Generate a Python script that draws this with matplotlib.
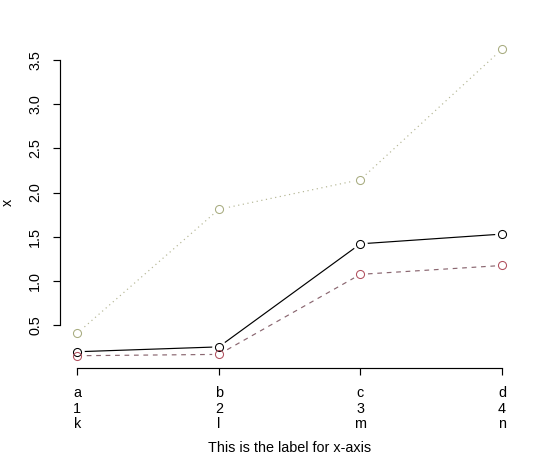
import matplotlib
matplotlib.use('Agg')
import matplotlib.pyplot as plt

# data
categories = ['a\n1\nk', 'b\n2\nl', 'c\n3\nm', 'd\n4\nn']
positions = [1, 2, 3, 4]
black_vals = [0.20, 0.255, 1.42, 1.53]
red_vals = [0.155, 0.17, 1.075, 1.175]
green_vals = [0.41, 1.81, 2.145, 3.62]
y_ticks = [0.5, 1.0, 1.5, 2.0, 2.5, 3.0, 3.5]

plt.rcParams['font.family'] = ['Liberation Sans', 'DejaVu Sans']

fig = plt.figure(figsize=(5.4, 4.62), dpi=100)
ax = fig.add_axes([0.1117, 0.2035, 0.961 - 0.1117, 0.920 - 0.2035])

series = [
    (black_vals, 'black', 'black', '-'),
    (red_vals, '#8a6670', '#b0505e', (0, (4, 4))),
    (green_vals, '#b4b694', '#a8ac80', (0, (1, 3))),
]

for vals, lcol, mcol, ls in series:
    ax.plot(positions, vals, color=lcol, linestyle=ls, linewidth=0.85, zorder=2)
for vals, lcol, mcol, ls in series:
    # white halo so the lines stop short of the points, like R type="b"
    ax.plot(positions, vals, linestyle='none', marker='o', markersize=9.5,
            markerfacecolor='white', markeredgecolor='white', zorder=3)
for vals, lcol, mcol, ls in series:
    ax.plot(positions, vals, linestyle='none', marker='o', markersize=5.8,
            markerfacecolor='none', markeredgecolor=mcol, markeredgewidth=0.75,
            zorder=4)

lo = min(min(black_vals), min(red_vals), min(green_vals))
hi = max(max(black_vals), max(red_vals), max(green_vals))
pad = (hi - lo) * 0.04
ax.set_ylim(lo - pad, hi + pad)
ax.set_xlim(1 - 0.12, 4 + 0.12)

for side in ['top', 'right']:
    ax.spines[side].set_visible(False)
ax.spines['left'].set_bounds(y_ticks[0], y_ticks[-1])
ax.spines['bottom'].set_bounds(positions[0], positions[-1])
for side in ['left', 'bottom']:
    ax.spines[side].set_linewidth(0.85)

ax.set_xticks(positions)
ax.set_xticklabels(categories, fontsize=10.4, linespacing=1.15)
ax.set_yticks(y_ticks)
ax.set_yticklabels([f'{v:.1f}' for v in y_ticks], fontsize=10.4,
                   rotation=90, va='center')
ax.tick_params(axis='x', length=5, width=0.85, pad=8)
ax.tick_params(axis='y', length=5, width=0.85, pad=8)

ax.set_xlabel('This is the label for x-axis', fontsize=10.4, va='center')
ax.xaxis.set_label_coords(0.5, -0.2416)
ax.set_ylabel('x', fontsize=10.4, va='center')
ax.yaxis.set_label_coords(-0.1140, 0.5)

fig.savefig('out.png', dpi=100)
